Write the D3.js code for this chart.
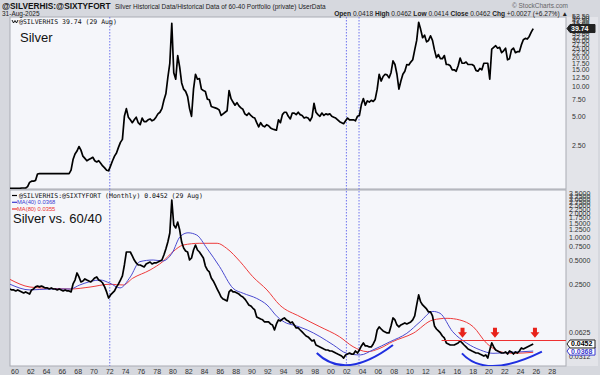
<!DOCTYPE html>
<html><head><meta charset="utf-8">
<script src="https://cdn.jsdelivr.net/npm/d3@7"></script>
<style>
html,body{margin:0;padding:0;background:#d6d8de;}
svg{display:block;}
</style></head>
<body>
<script>
// ---------------- DATA ----------------
const dataStart = 1959.35;   // first quarterly sample (decimal year)
const dataStep = 0.25;       // quarterly
// Silver price (USD), quarterly samples
const silver = [
 0.91,0.91,
 0.91,0.91,0.91,0.91, 0.92,0.92,0.92,0.95, 1.05,1.08,1.08,1.10, 1.28,1.29,1.29,1.29,
 1.29,1.29,1.29,1.29, 1.29,1.29,1.29,1.29, 1.29,1.29,1.29,1.29, 1.29,1.40,1.80,2.05,
 2.20,2.45,2.25,1.95, 1.85,1.75,1.80,1.85, 1.90,1.75,1.70,1.75, 1.65,1.55,1.48,1.40,
 1.38,1.55,1.75,1.95, 2.10,2.40,2.70,2.90, 5.00,6.00,4.90,4.60, 4.30,4.60,4.90,4.30,
 4.10,4.80,4.40,4.40, 4.60,4.70,4.50,4.60, 4.90,5.30,5.50,6.00, 7.30,8.50,12.5,17.5,
 45.0,14.0,12.0,21.0, 16.0,11.0,9.5,9.0, 8.0,6.0,5.0,9.5, 13.5,12.0,12.2,9.5,
 9.2,9.0,7.5,7.4, 6.3,6.2,6.1,6.0, 5.8,5.1,5.3,5.5, 5.7,9.2,7.6,7.0,
 6.5,6.9,6.4,6.1, 5.9,5.3,5.1,5.4, 5.1,4.9,4.8,4.3, 3.9,4.3,4.0,3.9,
 4.1,4.0,3.8,3.7, 3.65,3.6,4.6,4.3, 5.2,5.5,5.5,5.0, 4.7,5.4,5.4,5.2,
 5.5,5.2,5.1,4.8, 4.9,4.8,4.5,4.9, 6.8,5.5,5.2,5.0, 5.4,5.1,5.3,5.2,
 5.3,5.0,4.9,4.8, 4.6,4.4,4.3,4.2, 4.5,4.8,4.6,4.6, 4.6,4.5,5.0,5.1,
 6.6,7.6,6.5,7.2, 7.0,7.3,7.1,7.5, 9.5,13.5,11.5,12.8, 13.5,13.3,12.4,14.0,
 18.5,17.0,13.5,9.5, 11.5,13.5,14.5,17.0, 16.8,18.0,19.0,24.0, 30.0,46.0,39.0,32.0,
 34.0,29.0,30.0,33.5, 30.0,24.0,20.0,21.5, 19.5,19.5,21.0,17.0, 17.0,16.5,15.0,15.0,
 14.5,16.5,19.8,17.5, 17.5,18.0,17.0,17.0, 17.0,16.5,14.8,14.5, 15.5,15.0,17.5,17.5,
 17.5,12.0,24.5,25.5, 26.5,25.0,25.5,22.5, 23.5,25.0,19.0,19.5, 24.0,25.0,22.5,23.0,
 23.0,27.0,30.5,31.5, 31.0,33.0,36.5,39.74
];
// Silver / 60-40 portfolio ratio, quarterly samples
const ratio = [
 0.222,0.216,
 0.216,0.210,0.216,0.210, 0.204,0.198,0.204,0.198, 0.192,0.216,0.222,0.236, 0.242,0.236,0.242,0.236,
 0.229,0.229,0.222,0.229, 0.222,0.222,0.216,0.222, 0.216,0.210,0.216,0.210, 0.210,0.204,0.257,0.288,
 0.353,0.315,0.272,0.280, 0.297,0.288,0.280,0.272, 0.288,0.306,0.315,0.288, 0.280,0.264,0.236,0.204,
 0.171,0.187,0.198,0.210, 0.236,0.257,0.288,0.324, 0.445,0.648,0.648,0.648, 0.578,0.514,0.472,0.445,
 0.445,0.432,0.420,0.458, 0.472,0.485,0.458,0.472, 0.472,0.485,0.500,0.514, 0.594,0.707,0.865,1.123,
 2.92,1.415,1.30,1.54, 1.224,0.865,0.728,0.667, 0.648,0.514,0.545,0.687, 0.793,0.687,0.648,0.594,
 0.545,0.432,0.385,0.364, 0.306,0.280,0.250,0.222, 0.198,0.176,0.166,0.162, 0.157,0.204,0.216,0.204,
 0.204,0.198,0.192,0.182, 0.176,0.166,0.153,0.140, 0.136,0.128,0.121,0.099, 0.096,0.093,0.091,0.0855,
 0.0855,0.0855,0.0807,0.0784, 0.0678,0.0807,0.0906,0.088, 0.093,0.096,0.0906,0.088, 0.0831,0.0855,0.0784,0.0719,
 0.0719,0.0678,0.064,0.0604, 0.057,0.0554,0.0523,0.0493, 0.0508,0.0439,0.0427,0.0415, 0.0403,0.0391,0.038,0.038,
 0.0369,0.0369,0.0359,0.0348, 0.0338,0.0329,0.0319,0.0301, 0.0329,0.0338,0.0348,0.0338, 0.0338,0.0369,0.0348,0.038,
 0.0427,0.0466,0.0427,0.0427, 0.0415,0.0415,0.0452,0.0508, 0.0678,0.074,0.0698,0.0659, 0.064,0.0622,0.0622,0.0762,
 0.096,0.0906,0.0784,0.074, 0.0784,0.0807,0.0831,0.0807, 0.0831,0.0855,0.0906,0.1017, 0.140,0.187,0.153,0.140,
 0.132,0.1246,0.1142,0.1142, 0.1017,0.0762,0.0698,0.0659, 0.0622,0.057,0.0538,0.0466, 0.0452,0.0439,0.0439,0.0439,
 0.0452,0.0466,0.0493,0.0466, 0.0439,0.0415,0.0391,0.038, 0.0369,0.0359,0.0348,0.0348, 0.0338,0.0329,0.0319,0.0329,
 0.0301,0.038,0.0466,0.0415, 0.038,0.0369,0.0359,0.0348, 0.0348,0.0359,0.0338,0.0369, 0.0359,0.0338,0.0359,0.0348,
 0.0369,0.0403,0.0391,0.0403, 0.0415,0.0427,0.0439,0.0452
];
// Moving averages of the ratio
const ma40Years = [1959.37,1961.9,1964.4,1967.0,1968.2,1970.8,1972.0,1973.3,1974.6,1975.8,1977.5,1978.7,1979.9,1980.9,1981.9,1983.0,1984.3,1985.9,1987.6,1988.9,1990.6,1991.9,1993.2,1994.4,1995.2,1997.0,1998.6,2000.3,2002.0,2003.7,2005.3,2007.5,2009.6,2011.3,2012.9,2013.8,2015.4,2017.2,2018.9,2020.5,2023.0,2025.6];
const ma40 = [0.255,0.216,0.222,0.222,0.2495,0.288,0.263,0.229,0.315,0.49,0.514,0.50,0.63,1.01,1.13,1.06,0.72,0.424,0.227,0.196,0.169,0.14,0.0995,0.0824,0.0784,0.0678,0.056,0.0439,0.0345,0.0329,0.038,0.0484,0.0616,0.0863,0.116,0.11,0.0646,0.0462,0.038,0.0345,0.0356,0.0368];
const ma80Years = [1959.37,1961.9,1964.4,1967.0,1969.5,1972.0,1973.7,1974.9,1977.1,1978.7,1980.0,1981.3,1983.4,1985.6,1986.8,1988.5,1990.1,1991.9,1993.5,1996.1,1998.6,2001.1,2002.8,2004.6,2006.2,2007.8,2010.4,2012.9,2014.7,2016.3,2018.0,2019.7,2021.4,2023.0,2025.6];
const ma80 = [0.293,0.235,0.226,0.222,0.235,0.255,0.2495,0.303,0.385,0.49,0.654,0.793,0.834,0.834,0.72,0.49,0.317,0.216,0.14,0.0995,0.0745,0.0556,0.0418,0.0362,0.0399,0.0484,0.0616,0.0906,0.095,0.0906,0.0745,0.0462,0.0362,0.0345,0.0355];
// Annotations
const eventYears = [1972.0, 2001.95, 2003.55];          // dotted vertical markers
const resistanceLevel = 0.05, resistanceFrom = 2014.0;  // red horizontal line
const arrowYears = [2016.65, 2020.76, 2025.82];          // red down arrows
const arrowTipValue = 0.054;
const arcs = [ // bowl curves: [start, control, end] as [year, value]
 [[1998.2,0.0348],[2001.8,0.0155],[2007.85,0.0439]],
 [[2016.58,0.0345],[2019.62,0.0162],[2026.7,0.0362]]
];
// Axes
const xTickYears = d3.range(1960, 2029, 2);
const xTickLabels = ["60","62","64","66","68","70","72","74","76","78","80","82","84","86","88","90","92","94","96","98","00","02","04","06","08","10","12","14","16","18","20","22","24","26","28"];
const topTicks = [2.5,5,7.5,10,12.5,15,17.5,20,22.5,25,27.5,30,32.5,35,37.5,42.5,45,47.5,50,52.5];
const botTicks = [0.0312,0.0625,0.25,0.5,0.75,1.0,1.25,1.5,1.75,2.0,2.25,2.5,2.75,3.0,3.25,3.5];

// ---------------- LAYOUT ----------------
const W = 600, H = 375;
const L = 10, R = 566, T1 = 17, B1 = 189, T2 = 190, B2 = 366;
const dates = silver.map((d,i) => dataStart + i*dataStep);

const svg = d3.select("body").append("svg").attr("width", W).attr("height", H)
  .style("font-family", "'Liberation Sans', Arial, sans-serif");

svg.append("rect").attr("width", W).attr("height", H).attr("fill", "#d6d8de");
// right axis strip
svg.append("rect").attr("x", R).attr("y", T1).attr("width", W - R - 2).attr("height", B2 - T1).attr("fill", "#e3e4e9");
// panels
svg.append("rect").attr("x", L).attr("y", T1).attr("width", R - L).attr("height", B1 - T1).attr("fill", "#f5f6fa").attr("stroke", "#a9abb3").attr("stroke-width", 1);
svg.append("rect").attr("x", L).attr("y", T2).attr("width", R - L).attr("height", B2 - T2).attr("fill", "#f5f6fa").attr("stroke", "#a9abb3").attr("stroke-width", 1);

const defs = svg.append("defs");
defs.append("clipPath").attr("id", "c1").append("rect").attr("x", L).attr("y", T1).attr("width", R - L).attr("height", B1 - T1);
defs.append("clipPath").attr("id", "c2").append("rect").attr("x", L).attr("y", T2).attr("width", R - L).attr("height", B2 - T2);

const x = d3.scaleLinear().domain([1959.37, 2029.75]).range([L, R]);
const y1 = d3.scaleLog().domain([0.898, 52.2]).range([B1, T1]);
const y2 = d3.scaleLog().domain([0.0239, 3.9]).range([B2, T2]);

// dotted event lines
eventYears.forEach(yr => {
  svg.append("line").attr("x1", x(yr)).attr("x2", x(yr)).attr("y1", T1).attr("y2", B2)
    .attr("stroke", "#6f74ee").attr("stroke-width", 1).attr("stroke-dasharray", "1.5,1.5");
});

// top panel line
const g1 = svg.append("g").attr("clip-path", "url(#c1)");
g1.append("path").datum(silver.map((v,i)=>[dates[i], v]))
  .attr("fill", "none").attr("stroke", "#000").attr("stroke-width", 1.7).attr("stroke-linejoin", "round")
  .attr("d", d3.line().x(d=>x(d[0])).y(d=>y1(d[1])));

// bottom panel
const g2 = svg.append("g").attr("clip-path", "url(#c2)");
g2.append("path").datum(ma80Years.map((yr,i)=>[yr, ma80[i]]))
  .attr("fill", "none").attr("stroke", "#ee3b3b").attr("stroke-width", 1)
  .attr("d", d3.line().curve(d3.curveMonotoneX).x(d=>x(d[0])).y(d=>y2(d[1])));
g2.append("path").datum(ma40Years.map((yr,i)=>[yr, ma40[i]]))
  .attr("fill", "none").attr("stroke", "#4a4ad0").attr("stroke-width", 1)
  .attr("d", d3.line().curve(d3.curveMonotoneX).x(d=>x(d[0])).y(d=>y2(d[1])));
g2.append("path").datum(ratio.map((v,i)=>[dates[i], v]))
  .attr("fill", "none").attr("stroke", "#000").attr("stroke-width", 1.7).attr("stroke-linejoin", "round")
  .attr("d", d3.line().x(d=>x(d[0])).y(d=>y2(d[1])));
// arcs
arcs.forEach(a => {
  const p = a.map(d => [x(d[0]), y2(d[1])]);
  const path = d3.path(); path.moveTo(p[0][0], p[0][1]); path.quadraticCurveTo(p[1][0], p[1][1], p[2][0], p[2][1]);
  g2.append("path").attr("d", path.toString()).attr("fill", "none").attr("stroke", "#1f2fe0").attr("stroke-width", 2);
});
// resistance line
svg.append("line").attr("x1", x(resistanceFrom)).attr("x2", R).attr("y1", y2(resistanceLevel)).attr("y2", y2(resistanceLevel))
  .attr("stroke", "#ee3030").attr("stroke-width", 1.2);
// arrows
arrowYears.forEach(yr => {
  const cx = x(yr), ty = y2(arrowTipValue);
  const p = d3.path();
  p.moveTo(cx - 2, ty - 10); p.lineTo(cx + 2, ty - 10); p.lineTo(cx + 2, ty - 5.5); p.lineTo(cx + 4.5, ty - 5.5);
  p.lineTo(cx, ty); p.lineTo(cx - 4.5, ty - 5.5); p.lineTo(cx - 2, ty - 5.5); p.closePath();
  svg.append("path").attr("d", p.toString()).attr("fill", "#e8231b");
});

// right axes
const axFont = 7;
topTicks.forEach(v => {
  svg.append("text").attr("x", 572).attr("y", y1(v) + 2.5).attr("font-size", axFont).attr("fill", "#333")
    .text(v.toFixed(2));
});
botTicks.forEach(v => {
  svg.append("text").attr("x", 569).attr("y", y2(v) + 2.5).attr("font-size", axFont).attr("fill", "#333")
    .text(v.toFixed(4));
});
// value flags
function flag(yv, txt, fill, stroke, color) {
  svg.append("path").attr("d", `M${R+1},${yv} L${R+4},${yv-4} L${R+29},${yv-4} L${R+29},${yv+4} L${R+4},${yv+4} Z`)
    .attr("fill", fill).attr("stroke", stroke).attr("stroke-width", 1);
  svg.append("text").attr("x", R + 5).attr("y", yv + 2.5).attr("font-size", axFont).attr("font-weight", "bold").attr("fill", color).text(txt);
}
flag(y1(silver[silver.length-1]), "39.74", "#222", "#222", "#fff");
flag(y2(ma40[ma40.length-1]), "0.0368", "#fff", "#3a3ad0", "#3a3ad0");
flag(y2(ratio[ratio.length-1]), "0.0452", "#fff", "#222", "#000");

// x axis labels
xTickYears.forEach((yr,i) => {
  svg.append("text").attr("x", x(yr)).attr("y", 374).attr("text-anchor", "middle").attr("font-size", 7).attr("fill", "#333").text(xTickLabels[i]);
});

// header
svg.append("text").attr("x", 2).attr("y", 9).attr("font-size", 8.3).attr("font-weight", "bold").attr("fill", "#111").text("@SILVERHIS:@SIXTYFORT");
svg.append("text").attr("x", 115).attr("y", 9).attr("font-size", 6.5).attr("fill", "#222").text("Silver Historical Data/Historical Data of 60-40 Portfolio (private) UserData");
svg.append("text").attr("x", 2).attr("y", 16).attr("font-size", 6.5).attr("fill", "#222").text("31-Aug-2025");
svg.append("text").attr("x", 568).attr("y", 8).attr("text-anchor", "end").attr("font-size", 6.5).attr("fill", "#666").text("© StockCharts.com");
const hdr = svg.append("text").attr("x", 568).attr("y", 16).attr("text-anchor", "end").attr("font-size", 6.6).attr("fill", "#222");
[["Open ",true],["0.0418 ",false],["High ",true],["0.0462 ",false],["Low ",true],["0.0414 ",false],["Close ",true],["0.0462 ",false],["Chg ",true],["+0.0027 (+6.27%) ▲",false]]
  .forEach(([t,b]) => hdr.append("tspan").attr("font-weight", b ? "bold" : "normal").text(t));

// panel legends
const mono = "'DejaVu Sans Mono', monospace";
svg.append("path").attr("d", "M12,20 L13.5,23 L15,20.5 L16.5,23 L18,20").attr("fill", "none").attr("stroke", "#000").attr("stroke-width", 0.9);
svg.append("text").attr("x", 19).attr("y", 23.5).attr("font-size", 6.5).attr("font-family", mono).attr("fill", "#111").text("@SILVERHIS 39.74 (29 Aug)");
svg.append("text").attr("x", 20).attr("y", 42).attr("font-size", 13).attr("fill", "#111").text("Silver");

svg.append("line").attr("x1", 12).attr("x2", 17).attr("y1", 195.5).attr("y2", 195.5).attr("stroke", "#000").attr("stroke-width", 1.2);
svg.append("text").attr("x", 19).attr("y", 197.5).attr("font-size", 6.5).attr("font-family", mono).attr("fill", "#111").text("@SILVERHIS:@SIXTYFORT (Monthly) 0.0452 (29 Aug)");
svg.append("line").attr("x1", 12).attr("x2", 17).attr("y1", 202.3).attr("y2", 202.3).attr("stroke", "#3a3ad0").attr("stroke-width", 1.2);
svg.append("text").attr("x", 17).attr("y", 204.3).attr("font-size", 5.8).attr("fill", "#3a3ad0").text("MA(40) 0.0368");
svg.append("line").attr("x1", 12).attr("x2", 17).attr("y1", 209).attr("y2", 209).attr("stroke", "#ee3030").attr("stroke-width", 1.2);
svg.append("text").attr("x", 17).attr("y", 211).attr("font-size", 5.8).attr("fill", "#ee3030").text("MA(80) 0.0355");
svg.append("text").attr("x", 13).attr("y", 223).attr("font-size", 13).attr("fill", "#111").text("Silver vs. 60/40");
</script>
</body></html>
